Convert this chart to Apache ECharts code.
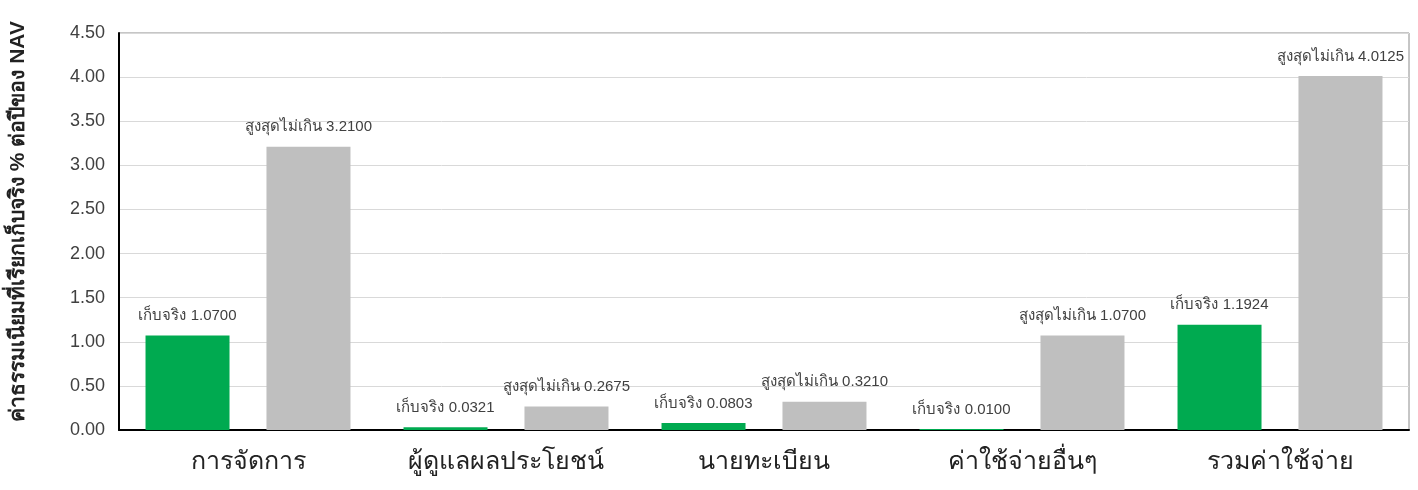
<!DOCTYPE html>
<html><head><meta charset="utf-8">
<script src="https://cdn.jsdelivr.net/npm/echarts@6/dist/echarts.min.js"></script>
<style>html,body{margin:0;padding:0;background:#fff}#c{width:1418px;height:490px}</style>
</head><body><div id="c"></div>
<script>
const categories = ['การจัดการ', 'ผู้ดูแลผลประโยชน์', 'นายทะเบียน', 'ค่าใช้จ่ายอื่นๆ', 'รวมค่าใช้จ่าย'];
const actualValues = [1.0700, 0.0321, 0.0803, 0.0100, 1.1924];
const maxValues = [3.2100, 0.2675, 0.3210, 1.0700, 4.0125];
const actualPrefix = 'เก็บจริง ';
const maxPrefix = 'สูงสุดไม่เกิน ';
const yTitle = 'ค่าธรรมเนียมที่เรียกเก็บจริง % ต่อปีของ NAV';

const font = '"Liberation Sans", Arial, Tahoma, sans-serif';
const chart = echarts.init(document.getElementById('c'));
chart.setOption({
  animation: false,
  grid: { left: 117, right: 9, top: 33, bottom: 60, show: true, borderColor: '#8c8c8c', borderWidth: 1, containLabel: false },
  xAxis: {
    type: 'category', data: categories,
    axisLine: { lineStyle: { color: '#000', width: 2 } },
    axisTick: { show: false },
    axisLabel: { interval: 0, fontSize: 25, color: '#222', fontFamily: font, margin: 20 }
  },
  yAxis: {
    type: 'value', min: 0, max: 4.5, interval: 0.5,
    name: yTitle, nameLocation: 'middle', nameGap: 90, nameRotate: 90,
    nameTextStyle: { fontSize: 21, fontWeight: 'bold', color: '#222', fontFamily: font, padding: [0, 0, 0, 20] },
    axisLine: { show: true, lineStyle: { color: '#000', width: 2 } },
    axisTick: { show: false },
    splitLine: { lineStyle: { color: '#d9d9d9', width: 1 } },
    axisLabel: { fontSize: 18, color: '#404040', fontFamily: font, margin: 14, formatter: v => v.toFixed(2) }
  },
  series: [
    {
      type: 'bar', data: actualValues, barWidth: 84, barGap: '44%',
      itemStyle: { color: '#00aa50' },
      label: { show: true, position: 'top', distance: 12, fontSize: 15, color: '#404040', fontFamily: font,
        formatter: p => actualPrefix + p.value.toFixed(4) }
    },
    {
      type: 'bar', data: maxValues, barWidth: 84,
      itemStyle: { color: '#bfbfbf' },
      label: { show: true, position: 'top', distance: 12, fontSize: 15, color: '#404040', fontFamily: font,
        formatter: p => maxPrefix + p.value.toFixed(4) }
    }
  ]
});
</script></body></html>
